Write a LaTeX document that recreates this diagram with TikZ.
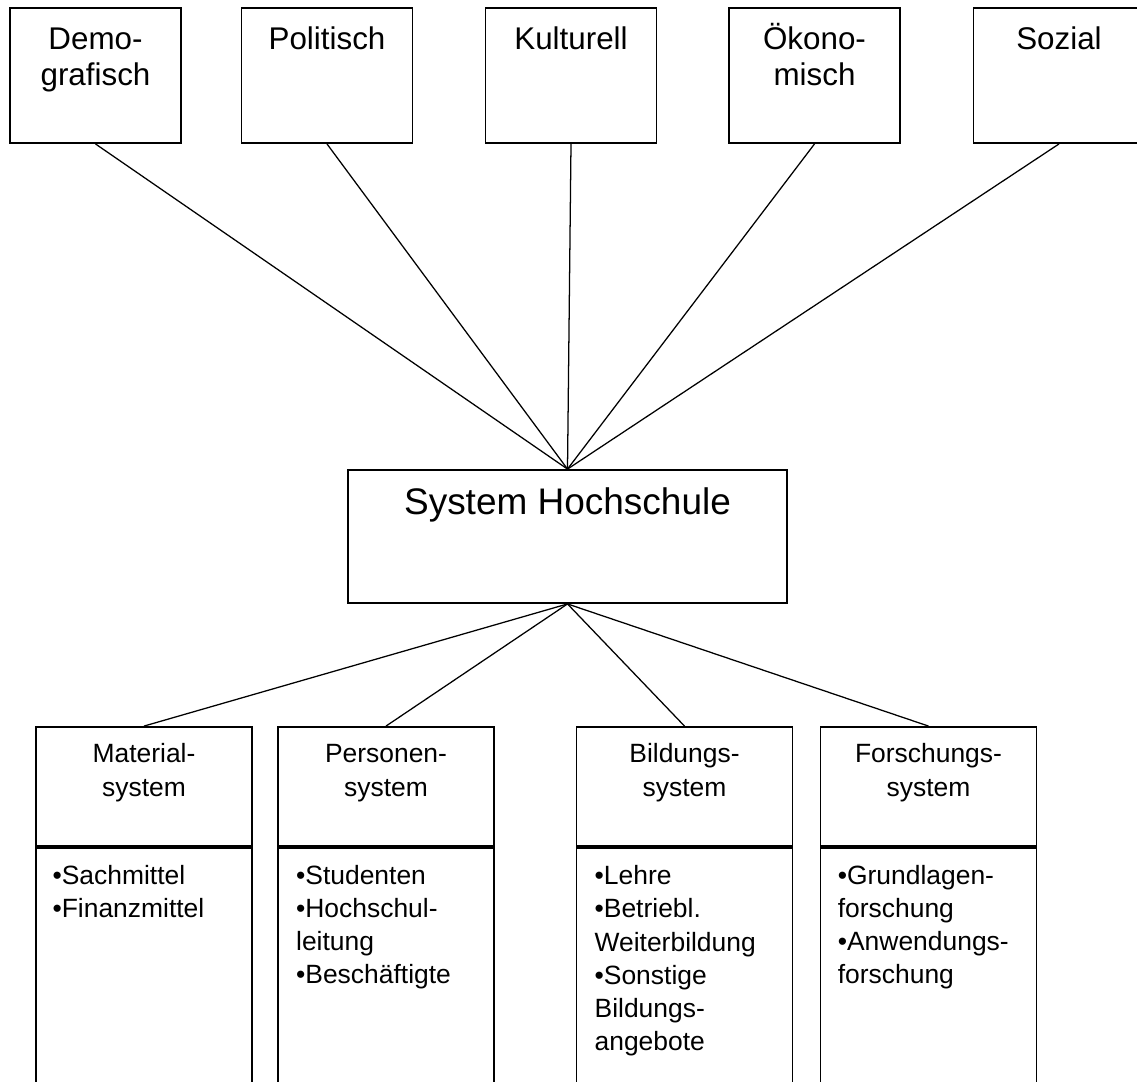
\documentclass[tikz,border=0pt]{standalone}
\usepackage{fontspec}
\setmainfont{Liberation Sans}
\usetikzlibrary{positioning}

\tikzset{
  umwelt/.style={draw, line width=1.3pt, minimum width=4.275cm, minimum height=3.375cm, inner sep=0pt},
  umwelttext/.style={anchor=base, align=center, inner sep=0pt, font=\fontsize{22.3}{25.6}\selectfont},
  hochschule/.style={draw, line width=1.3pt, minimum width=10.975cm, minimum height=3.325cm, inner sep=0pt},
  hochschultext/.style={anchor=base, inner sep=0pt, font=\fontsize{26.3}{30}\selectfont},
  teilkopf/.style={draw, line width=1.3pt, minimum width=5.4cm, minimum height=2.975cm, inner sep=0pt},
  teilrumpf/.style={draw, line width=1.3pt, minimum width=5.4cm, minimum height=6.35cm, inner sep=0pt},
  kopftext/.style={anchor=base, align=center, inner sep=0pt, font=\fontsize{18.8}{23.6}\selectfont},
  listentext/.style={anchor=base west, align=left, inner sep=0pt, font=\fontsize{18.8}{23.6}\selectfont},
  verbindung/.style={line width=0.9pt}
}

\begin{document}
\begin{tikzpicture}[x=0.025cm, y=-0.025cm]
	\useasboundingbox (0,0) rectangle (1137,1081);
	\clip (0,0) rectangle (1137,1081);
	% Umwelten oben
	\node[umwelt] (demo) at (95.5,75.5) {};
	\node[umwelt] (poli) at (327,75.5) {};
	\node[umwelt] (kult) at (571,75.5) {};
	\node[umwelt] (oeko) at (814.5,75.5) {};
	\node[umwelt] (sozi) at (1059,75.5) {};
	% (Grundlinie der letzten Zeile)
	\node[umwelttext] (demo-t) at ([yshift=-1.95cm]demo.north) {Demo-\\grafisch};
	\node[umwelttext] (poli-t) at ([yshift=-1.05cm]poli.north) {Politisch};
	\node[umwelttext] (kult-t) at ([yshift=-1.05cm]kult.north) {Kulturell};
	\node[umwelttext] (oeko-t) at ([yshift=-1.95cm]oeko.north) {Ökono-\\misch};
	\node[umwelttext] (sozi-t) at ([yshift=-1.05cm]sozi.north) {Sozial};
	% System Hochschule
	\node[hochschule] (hs) at (567.5,536.5) {};
	\node[hochschultext] (hs-t) at ([yshift=-1.125cm]hs.north) {System Hochschule};
	% Teilsysteme unten
	\node[teilkopf] (mat) at (144,786.5) {};
	\node[teilkopf] (pers) at (386,786.5) {};
	\node[teilkopf] (bild) at (684.5,786.5) {};
	\node[teilkopf] (fors) at (928.5,786.5) {};
	\node[teilrumpf, below=0pt of mat] (mat-r) {};
	\node[teilrumpf, below=0pt of pers] (pers-r) {};
	\node[teilrumpf, below=0pt of bild] (bild-r) {};
	\node[teilrumpf, below=0pt of fors] (fors-r) {};
	\node[kopftext] (mat-t) at ([yshift=-1.75cm]mat.north) {Material-\\system};
	\node[kopftext] (pers-t) at ([yshift=-1.75cm]pers.north) {Personen-\\system};
	\node[kopftext] (bild-t) at ([yshift=-1.75cm]bild.north) {Bildungs-\\system};
	\node[kopftext] (fors-t) at ([yshift=-1.75cm]fors.north) {Forschungs-\\system};
	\node[listentext] (mat-l) at ([xshift=0.43cm, yshift=-1.758cm]mat-r.north west)
		{•Sachmittel\\•Finanzmittel};
	\node[listentext] (pers-l) at ([xshift=0.47cm, yshift=-3.425cm]pers-r.north west)
		{•Studenten\\•Hochschul-\\leitung\\•Beschäftigte};
	\node[listentext] (bild-l) at ([xshift=0.47cm, yshift=-5.09cm]bild-r.north west)
		{•Lehre\\•Betriebl.\\Weiterbildung\\•Sonstige\\Bildungs-\\angebote};
	\node[listentext] (fors-l) at ([xshift=0.45cm, yshift=-3.425cm]fors-r.north west)
		{•Grundlagen-\\forschung\\•Anwendungs-\\forschung};
	% Verbindungen
	\draw[verbindung] (demo.south) -- (hs.north);
	\draw[verbindung] (poli.south) -- (hs.north);
	\draw[verbindung] (kult.south) -- (hs.north);
	\draw[verbindung] (oeko.south) -- (hs.north);
	\draw[verbindung] (sozi.south) -- (hs.north);
	\draw[verbindung] (hs.south) -- (mat.north);
	\draw[verbindung] (hs.south) -- (pers.north);
	\draw[verbindung] (hs.south) -- (bild.north);
	\draw[verbindung] (hs.south) -- (fors.north);
\end{tikzpicture}
\end{document}
